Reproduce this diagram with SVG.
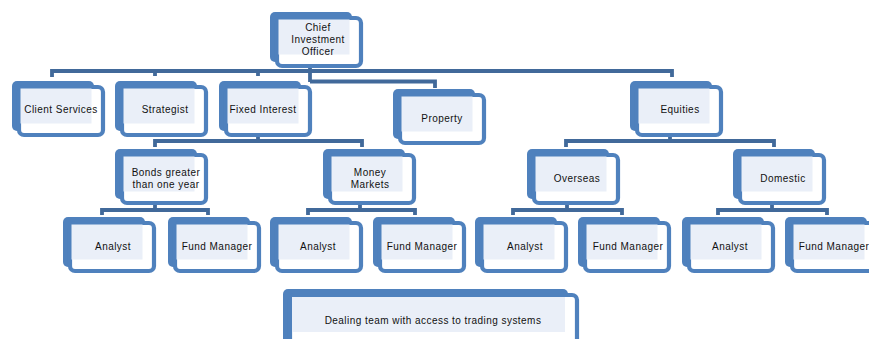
<svg xmlns="http://www.w3.org/2000/svg" width="869" height="339" viewBox="0 0 869 339">
<style>
.bk{fill:#4f81bd}
.fr{fill:#ffffff;stroke:#4f81bd;stroke-width:4.2}
.in{fill:#eaeff8}
.t{font-family:"Liberation Sans",Arial,sans-serif;font-size:10px;letter-spacing:0.45px;fill:#111;text-anchor:middle}
.c{fill:none;stroke:#41699a;stroke-width:3.8;stroke-linejoin:miter}
</style>
<defs>
<g id="n93">
<rect class="bk" x="0" y="0" width="82" height="50" rx="5"/>
<rect class="fr" x="7" y="6" width="84" height="48" rx="5"/>
<rect class="in" x="8.5" y="7.5" width="71" height="35"/>
</g>
</defs>
<rect width="869" height="339" fill="#ffffff"/>
<g id="connectors">
<path class="c" d="M310,64 V82"/>
<path class="c" d="M52,77 V71 H672 V77"/>
<path class="c" d="M155,71 V76 M258,71 V76"/>
<path class="c" d="M310,81.5 H435 V88"/>
<path class="c" d="M258,134 V141"/>
<path class="c" d="M155,147 V141 H362 V147"/>
<path class="c" d="M670,134 V141"/>
<path class="c" d="M566,147 V141 H774 V147"/>
<path class="c" d="M155,205 V210"/>
<path class="c" d="M102,215 V210 H208 V215"/>
<path class="c" d="M360,205 V210"/>
<path class="c" d="M308,215 V210 H415 V215"/>
<path class="c" d="M567,205 V210"/>
<path class="c" d="M513,215 V210 H622 V215"/>
<path class="c" d="M772,205 V210"/>
<path class="c" d="M718,215 V210 H827 V215"/>
</g>
<g id="cio"><use href="#n93" x="270" y="12"/>
<text class="t" x="318" y="31">Chief</text><text class="t" x="318" y="43">Investment</text><text class="t" x="318" y="55">Officer</text></g>
<g id="client-services"><use href="#n93" x="12" y="81"/><text class="t" x="61" y="113">Client Services</text></g>
<g id="strategist"><use href="#n93" x="115" y="81"/><text class="t" x="165" y="113">Strategist</text></g>
<g id="fixed-interest"><use href="#n93" x="219" y="81"/><text class="t" x="263" y="113">Fixed Interest</text></g>
<g id="property"><use href="#n93" x="393" y="89"/><text class="t" x="442" y="122">Property</text></g>
<g id="equities"><use href="#n93" x="630" y="81"/><text class="t" x="680" y="113">Equities</text></g>
<g id="bonds"><use href="#n93" x="115" y="149"/><text class="t" x="166" y="176">Bonds greater</text><text class="t" x="166" y="188">than one year</text></g>
<g id="money-markets"><use href="#n93" x="323" y="149"/><text class="t" x="370" y="176">Money</text><text class="t" x="370" y="188">Markets</text></g>
<g id="overseas"><use href="#n93" x="527" y="149"/><text class="t" x="577" y="182">Overseas</text></g>
<g id="domestic"><use href="#n93" x="733" y="149"/><text class="t" x="783" y="182">Domestic</text></g>
<g id="analyst-1"><use href="#n93" x="63" y="217"/><text class="t" x="113" y="250">Analyst</text></g>
<g id="fund-manager-1"><use href="#n93" x="168" y="217"/><text class="t" x="217" y="250">Fund Manager</text></g>
<g id="analyst-2"><use href="#n93" x="270" y="217"/><text class="t" x="318" y="250">Analyst</text></g>
<g id="fund-manager-2"><use href="#n93" x="373" y="217"/><text class="t" x="422" y="250">Fund Manager</text></g>
<g id="analyst-3"><use href="#n93" x="475" y="217"/><text class="t" x="525" y="250">Analyst</text></g>
<g id="fund-manager-3"><use href="#n93" x="578" y="217"/><text class="t" x="628" y="250">Fund Manager</text></g>
<g id="analyst-4"><use href="#n93" x="682" y="217"/><text class="t" x="730" y="250">Analyst</text></g>
<g id="fund-manager-4"><use href="#n93" x="785" y="217"/><text class="t" x="834" y="250">Fund Manager</text></g>
<g id="dealing-team">
<rect class="bk" x="283" y="289" width="285" height="60" rx="5"/>
<rect class="fr" x="290" y="295" width="287" height="60" rx="5"/>
<rect class="in" x="292" y="297" width="273" height="35"/>
<text class="t" x="433" y="324">Dealing team with access to trading systems</text>
</g>
</svg>
